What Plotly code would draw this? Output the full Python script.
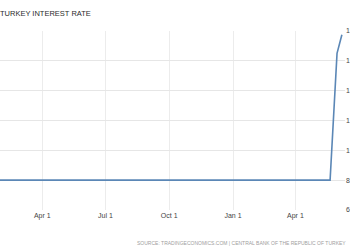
import plotly.graph_objects as go

dates = ["2017-01-30", "2018-05-21", "2018-05-31", "2018-06-07"]
rates = [8.0, 8.0, 16.5, 17.75]
y_ticks = [6, 8, 10, 12, 14, 16, 18]
title_text = "TURKEY INTEREST RATE"
source_text = "SOURCE: TRADINGECONOMICS.COM | CENTRAL BANK OF THE REPUBLIC OF TURKEY"

FONT = "Liberation Sans Narrow, Arial Narrow, Liberation Sans, sans-serif"

fig = go.Figure()
fig.add_trace(go.Scatter(x=dates, y=rates, mode="lines",
                         line=dict(color="#5b87b6", width=1.6),
                         hoverinfo="skip", showlegend=False))

fig.update_layout(
    width=350, height=250,
    margin=dict(l=0, r=5, t=31, b=40),
    paper_bgcolor="white", plot_bgcolor="white",
    font=dict(family=FONT, size=7, color="#555"),
    title=dict(text=title_text, x=0, xanchor="left", xref="paper",
               y=1 - 13 / 250, yanchor="middle",
               font=dict(family=FONT, size=7.5, color="#2b2b2b")),
    annotations=[dict(text=source_text, xref="paper", yref="paper",
                      x=1, xshift=3, xanchor="right",
                      y=(210 - 243) / 179, yanchor="middle",
                      showarrow=False,
                      font=dict(family=FONT, size=5, color="#a0a0a0"))],
)
fig.update_xaxes(type="date", range=["2017-01-30", "2018-06-11 12:00"],
                 tick0="2017-01-01", dtick="M3", tickformat="%b %-d",
                 showgrid=True, gridcolor="#ececec", gridwidth=1,
                 showline=False, zeroline=False, ticks="",
                 tickfont=dict(family=FONT, size=7, color="#444"),
                 automargin=False)
fig.update_yaxes(range=[6, 18], tickvals=y_ticks, side="right",
                 showgrid=True, gridcolor="#e6e6e6", gridwidth=1,
                 showline=False, zeroline=False, ticks="",
                 tickfont=dict(family=FONT, size=7, color="#444"),
                 automargin=False)

fig.write_html("out.html")
